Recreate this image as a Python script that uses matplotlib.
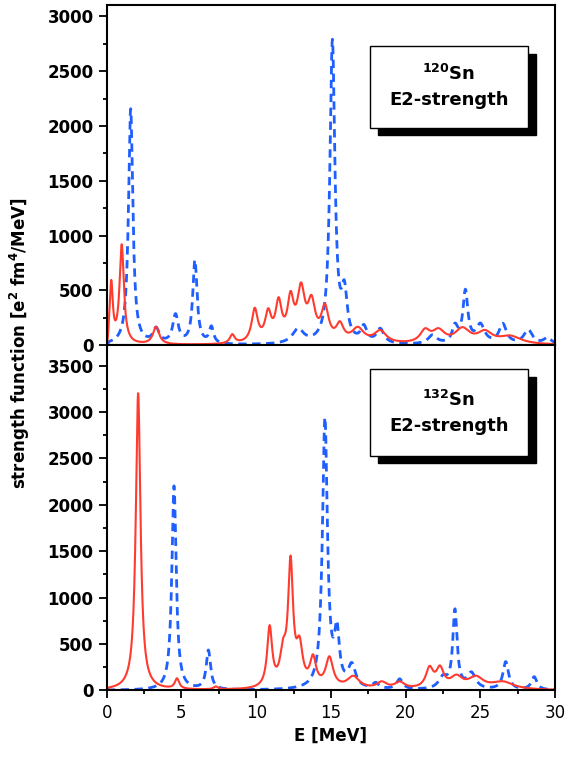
import numpy as np
import matplotlib
matplotlib.use("Agg")
import matplotlib.pyplot as plt
from matplotlib.patches import Rectangle
from matplotlib.ticker import MultipleLocator

# peak lists: centre [MeV], height, width (FWHM) [MeV]
sn120_red_e = [0.3, 1.0, 3.3, 8.4, 9.9, 10.8, 11.5, 12.3, 13.0, 13.7, 14.6, 15.6, 16.8, 18.3, 21.3, 22.2, 23.8, 25.3, 27.0]
sn120_red_h = [540, 900, 160, 80, 300, 250, 340, 360, 450, 330, 300, 150, 130, 110, 110, 110, 130, 100, 70]
sn120_red_w = [0.25, 0.35, 0.5, 0.4, 0.5, 0.5, 0.5, 0.5, 0.6, 0.6, 0.6, 0.6, 1.0, 1.0, 0.8, 1.0, 1.2, 1.2, 1.8]

sn120_blue_e = [1.6, 3.3, 4.6, 5.9, 7.0, 12.8, 15.1, 15.9, 17.2, 18.3, 21.8, 23.3, 24.0, 25.0, 26.5, 28.2, 29.5]
sn120_blue_h = [2150, 130, 260, 760, 150, 130, 2750, 420, 140, 130, 80, 150, 470, 170, 180, 130, 60]
sn120_blue_w = [0.35, 0.5, 0.45, 0.35, 0.35, 0.9, 0.4, 0.45, 0.5, 0.6, 0.7, 0.45, 0.4, 0.7, 0.6, 0.7, 0.6]

sn132_red_e = [2.1, 4.7, 7.3, 10.9, 11.8, 12.3, 12.9, 13.8, 14.9, 16.5, 18.4, 19.6, 21.6, 22.3, 23.4, 24.7, 26.5]
sn132_red_h = [3200, 110, 30, 640, 320, 1300, 400, 300, 320, 130, 70, 70, 210, 200, 120, 120, 80]
sn132_red_w = [0.38, 0.35, 0.35, 0.4, 0.5, 0.4, 0.5, 0.5, 0.6, 1.0, 0.8, 0.8, 0.6, 0.6, 1.0, 1.2, 1.8]

sn132_blue_e = [4.5, 6.8, 14.6, 15.4, 16.4, 18.0, 19.6, 22.5, 23.3, 24.4, 26.7, 28.6]
sn132_blue_h = [2200, 420, 2900, 560, 240, 60, 110, 120, 840, 170, 300, 140]
sn132_blue_w = [0.35, 0.35, 0.4, 0.4, 0.6, 0.5, 0.5, 0.7, 0.35, 0.7, 0.45, 0.45]

E = np.linspace(0, 30, 3001)


def fold(centres, heights, widths):
    # Lorentzian folding of the discrete peaks
    s = np.zeros_like(E)
    for c, h, w in zip(centres, heights, widths):
        g = w / 2.0
        s += h * g**2 / ((E - c)**2 + g**2)
    s *= np.clip(E / 0.15, 0, 1)
    return s


def shadow_box(ax, x0, y0, x1, y1, label):
    dx, dy = 0.018, 0.022
    ax.add_patch(Rectangle((x0 + dx, y0 - dy), x1 - x0, y1 - y0, transform=ax.transAxes,
                           facecolor='black', edgecolor='black', zorder=5))
    ax.add_patch(Rectangle((x0, y0), x1 - x0, y1 - y0, transform=ax.transAxes,
                           facecolor='white', edgecolor='black', lw=1, zorder=6))
    ax.text((x0 + x1) / 2, (y0 + y1) / 2, label, transform=ax.transAxes, ha='center', va='center',
            fontsize=13, fontweight='bold', zorder=7, linespacing=1.5)


fig = plt.figure(figsize=(5.74, 7.62), dpi=100)
ax1 = fig.add_axes([0.186, 0.547, 0.781, 0.446])
ax2 = fig.add_axes([0.186, 0.094, 0.781, 0.453], sharex=ax1)

ax1.plot(E, fold(sn120_blue_e, sn120_blue_h, sn120_blue_w), color='#1f5fff', ls='--', lw=2, dashes=(3, 2))
ax1.plot(E, fold(sn120_red_e, sn120_red_h, sn120_red_w), color='#ff3b2f', lw=1.5)
ax2.plot(E, fold(sn132_blue_e, sn132_blue_h, sn132_blue_w), color='#1f5fff', ls='--', lw=2, dashes=(3, 2))
ax2.plot(E, fold(sn132_red_e, sn132_red_h, sn132_red_w), color='#ff3b2f', lw=1.5)

ax1.set_ylim(0, 3100)
ax2.set_ylim(0, 3720)
ax1.set_xlim(0, 30)
for ax in (ax1, ax2):
    ax.yaxis.set_major_locator(MultipleLocator(500))
    ax.yaxis.set_minor_locator(MultipleLocator(250))
    ax.xaxis.set_major_locator(MultipleLocator(5))
    ax.xaxis.set_minor_locator(MultipleLocator(2.5))
    ax.tick_params(which='both', direction='out', width=1.3, labelsize=12)
    ax.tick_params(which='major', length=6)
    ax.tick_params(which='minor', length=3)
    for sp in ax.spines.values():
        sp.set_linewidth(1.5)
    for lab in ax.get_yticklabels():
        lab.set_fontweight('bold')
plt.setp(ax1.get_xticklabels(), visible=False)

ax2.set_xlabel('E [MeV]', fontsize=12, fontweight='bold')
fig.text(0.035, 0.55, r'strength function [e$^{\mathbf{2}}$ fm$^{\mathbf{4}}$/MeV]', rotation=90,
         ha='center', va='center', fontsize=12, fontweight='bold')

shadow_box(ax1, 0.587, 0.64, 0.94, 0.88, r'$^{\mathbf{120}}$Sn' + '\nE2-strength')
shadow_box(ax2, 0.587, 0.68, 0.94, 0.93, r'$^{\mathbf{132}}$Sn' + '\nE2-strength')

fig.savefig('out.png', dpi=100)
